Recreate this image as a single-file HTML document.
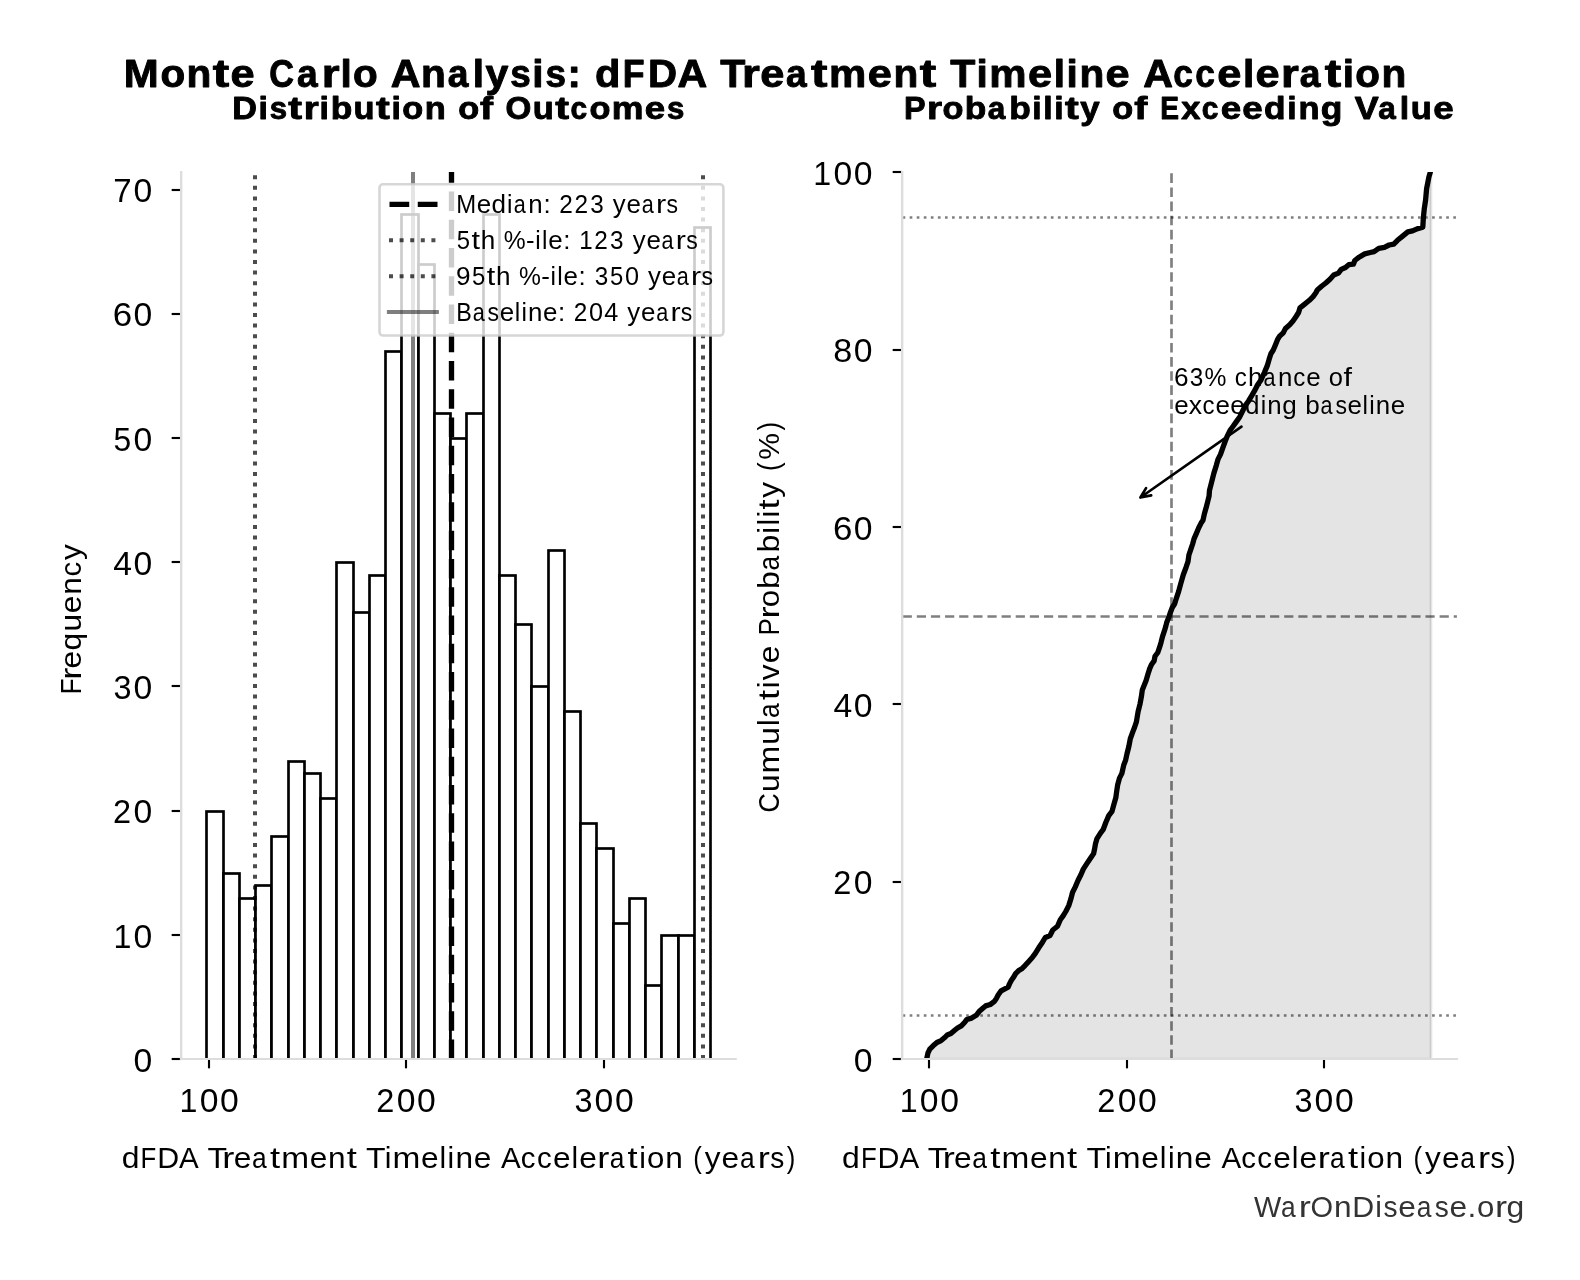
<!DOCTYPE html><html><head><meta charset="utf-8"><title>Monte Carlo Analysis</title><style>html,body{margin:0;padding:0;background:#fff;overflow:hidden}svg{display:block;will-change:transform}text{font-family:"Liberation Sans",sans-serif}</style></head><body>
<svg width="1580" height="1280" viewBox="0 0 1580 1280">
<rect width="1580" height="1280" fill="#fff"/>
<defs><clipPath id="cl"><rect x="181.0" y="172.1" width="554.7" height="886.9"/></clipPath><clipPath id="cr"><rect x="902.0" y="172.0" width="554.9000000000001" height="887.0"/></clipPath></defs>
<g clip-path="url(#cl)">
<rect x="206.5" y="811.5" width="17.0" height="250.50" fill="#fff" stroke="#000" stroke-width="2.67"/>
<rect x="223.5" y="873.5" width="16.0" height="188.50" fill="#fff" stroke="#000" stroke-width="2.67"/>
<rect x="239.5" y="898.5" width="16.0" height="163.50" fill="#fff" stroke="#000" stroke-width="2.67"/>
<rect x="255.5" y="885.5" width="16.0" height="176.50" fill="#fff" stroke="#000" stroke-width="2.67"/>
<rect x="271.5" y="836.5" width="17.0" height="225.50" fill="#fff" stroke="#000" stroke-width="2.67"/>
<rect x="288.5" y="761.5" width="16.0" height="300.50" fill="#fff" stroke="#000" stroke-width="2.67"/>
<rect x="304.5" y="773.5" width="16.0" height="288.50" fill="#fff" stroke="#000" stroke-width="2.67"/>
<rect x="320.5" y="798.5" width="16.0" height="263.50" fill="#fff" stroke="#000" stroke-width="2.67"/>
<rect x="336.5" y="562.5" width="17.0" height="499.50" fill="#fff" stroke="#000" stroke-width="2.67"/>
<rect x="353.5" y="612.5" width="16.0" height="449.50" fill="#fff" stroke="#000" stroke-width="2.67"/>
<rect x="369.5" y="575.5" width="16.0" height="486.50" fill="#fff" stroke="#000" stroke-width="2.67"/>
<rect x="385.5" y="351.5" width="16.0" height="710.50" fill="#fff" stroke="#000" stroke-width="2.67"/>
<rect x="401.5" y="214.5" width="17.0" height="847.50" fill="#fff" stroke="#000" stroke-width="2.67"/>
<rect x="418.5" y="264.5" width="16.0" height="797.50" fill="#fff" stroke="#000" stroke-width="2.67"/>
<rect x="434.5" y="413.5" width="16.0" height="648.50" fill="#fff" stroke="#000" stroke-width="2.67"/>
<rect x="450.5" y="438.5" width="16.0" height="623.50" fill="#fff" stroke="#000" stroke-width="2.67"/>
<rect x="466.5" y="413.5" width="17.0" height="648.50" fill="#fff" stroke="#000" stroke-width="2.67"/>
<rect x="483.5" y="214.5" width="16.0" height="847.50" fill="#fff" stroke="#000" stroke-width="2.67"/>
<rect x="499.5" y="575.5" width="16.0" height="486.50" fill="#fff" stroke="#000" stroke-width="2.67"/>
<rect x="515.5" y="624.5" width="16.0" height="437.50" fill="#fff" stroke="#000" stroke-width="2.67"/>
<rect x="531.5" y="686.5" width="17.0" height="375.50" fill="#fff" stroke="#000" stroke-width="2.67"/>
<rect x="548.5" y="550.5" width="16.0" height="511.50" fill="#fff" stroke="#000" stroke-width="2.67"/>
<rect x="564.5" y="711.5" width="16.0" height="350.50" fill="#fff" stroke="#000" stroke-width="2.67"/>
<rect x="580.5" y="823.5" width="16.0" height="238.50" fill="#fff" stroke="#000" stroke-width="2.67"/>
<rect x="596.5" y="848.5" width="17.0" height="213.50" fill="#fff" stroke="#000" stroke-width="2.67"/>
<rect x="613.5" y="923.5" width="16.0" height="138.50" fill="#fff" stroke="#000" stroke-width="2.67"/>
<rect x="629.5" y="898.5" width="16.0" height="163.50" fill="#fff" stroke="#000" stroke-width="2.67"/>
<rect x="645.5" y="985.5" width="16.0" height="76.50" fill="#fff" stroke="#000" stroke-width="2.67"/>
<rect x="661.5" y="935.5" width="17.0" height="126.50" fill="#fff" stroke="#000" stroke-width="2.67"/>
<rect x="678.5" y="935.5" width="16.0" height="126.50" fill="#fff" stroke="#000" stroke-width="2.67"/>
<rect x="694.5" y="227.5" width="16.0" height="834.50" fill="#fff" stroke="#000" stroke-width="2.67"/>
<path d="M255.0 1059.0 V172.1" stroke="#000" stroke-opacity="0.7" stroke-width="4" stroke-dasharray="4 6.6"/>
<path d="M413.0 1059.0 V172.1" stroke="#000" stroke-opacity="0.5" stroke-width="4"/>
<path d="M451.5 1059.0 V172.1" stroke="#000" stroke-width="5.33" stroke-dasharray="19.5 8.77"/>
<path d="M703.0 1059.0 V172.1" stroke="#000" stroke-opacity="0.7" stroke-width="4" stroke-dasharray="4 6.6"/>
</g>
<path d="M171.67 1059 H181" stroke="#000" stroke-width="2.13"/>
<path d="M171.67 935 H181" stroke="#000" stroke-width="2.13"/>
<path d="M171.67 811 H181" stroke="#000" stroke-width="2.13"/>
<path d="M171.67 686 H181" stroke="#000" stroke-width="2.13"/>
<path d="M171.67 562 H181" stroke="#000" stroke-width="2.13"/>
<path d="M171.67 438 H181" stroke="#000" stroke-width="2.13"/>
<path d="M171.67 314 H181" stroke="#000" stroke-width="2.13"/>
<path d="M171.67 190 H181" stroke="#000" stroke-width="2.13"/>
<path d="M209 1059 V1068.33" stroke="#000" stroke-width="2.13"/>
<path d="M406 1059 V1068.33" stroke="#000" stroke-width="2.13"/>
<path d="M604 1059 V1068.33" stroke="#000" stroke-width="2.13"/>
<path d="M181.15 171.0 V1060.1" stroke="#dddddd" stroke-width="2.4"/>
<path d="M179.9 1059.0 H736.8000000000001" stroke="#dddddd" stroke-width="2.13"/>
<rect x="379.5" y="184.3" width="343.9" height="151.2" rx="3.5" ry="3.5" fill="#fff" fill-opacity="0.8" stroke="#cccccc" stroke-opacity="0.8" stroke-width="2.6"/>
<path d="M389.5 204.4 H437.5" stroke="#000" stroke-width="5.33" stroke-dasharray="19.73 8.53"/>
<path d="M389.0 240.3 H437.5" stroke="#000" stroke-opacity="0.7" stroke-width="4" stroke-dasharray="4 6.6"/>
<path d="M389.0 276.2 H437.5" stroke="#000" stroke-opacity="0.7" stroke-width="4" stroke-dasharray="4 6.6"/>
<path d="M388.9 312.1 H436.9" stroke="#000" stroke-opacity="0.5" stroke-width="4" stroke-linecap="square"/>
<path d="M902.0 1015.5 H1456.9" stroke="#000" stroke-opacity="0.5" stroke-width="2.67" stroke-dasharray="2.67 4.39" stroke-dashoffset="-0.6"/>
<path d="M902.0 217.5 H1456.9" stroke="#000" stroke-opacity="0.5" stroke-width="2.67" stroke-dasharray="2.67 4.39" stroke-dashoffset="-0.6"/>
<path d="M902.0 616.5 H1456.9" stroke="#000" stroke-opacity="0.5" stroke-width="2.67" stroke-dasharray="9.2 4.93" stroke-dashoffset="-0.67"/>
<path d="M1171.5 1059.0 V172.0" stroke="#000" stroke-opacity="0.5" stroke-width="2.67" stroke-dasharray="9.6 4.53"/>
<g clip-path="url(#cr)">
<polygon points="926.50,1059.0 926.50,1060.00 927.00,1057.50 928.00,1052.80 929.80,1049.10 933.10,1045.80 936.90,1042.50 941.10,1040.60 944.40,1037.80 947.20,1035.00 950.90,1033.60 954.70,1030.30 957.50,1028.00 961.70,1025.60 965.00,1021.90 966.90,1019.50 971.60,1018.10 976.25,1015.30 979.10,1011.60 982.80,1008.30 985.60,1005.90 990.30,1004.50 994.10,1001.70 996.40,998.40 998.30,994.70 1001.10,990.90 1004.40,989.10 1008.10,987.20 1009.50,983.90 1011.40,980.20 1013.75,976.90 1015.60,973.60 1018.40,970.80 1022.20,968.40 1025.00,965.60 1028.75,961.40 1032.50,957.20 1035.00,953.90 1038.75,947.80 1042.50,942.20 1045.30,937.50 1050.00,935.60 1052.80,930.00 1057.50,926.25 1060.30,919.70 1063.10,915.90 1065.90,911.25 1068.75,905.60 1071.10,898.10 1072.50,892.50 1075.30,886.90 1078.10,880.30 1080.90,874.70 1083.30,869.10 1087.00,863.40 1090.80,857.80 1093.60,853.60 1094.50,849.40 1095.50,843.75 1097.00,838.60 1100.30,833.40 1103.10,829.70 1105.90,822.20 1108.75,815.60 1112.00,811.40 1113.90,804.40 1115.80,797.80 1116.70,791.25 1117.70,784.70 1119.50,778.10 1121.90,773.40 1123.75,765.00 1125.60,760.30 1127.00,753.75 1128.90,746.25 1130.30,738.75 1132.70,732.20 1134.50,727.50 1136.40,721.90 1138.10,711.60 1140.00,704.10 1141.40,696.60 1142.30,690.00 1144.20,685.30 1146.10,680.60 1148.00,674.10 1149.80,668.40 1151.70,664.20 1154.10,660.90 1155.00,656.25 1157.80,652.50 1159.70,646.90 1161.10,642.20 1162.50,636.60 1164.40,630.90 1165.80,626.25 1166.70,622.50 1168.60,617.80 1170.50,612.20 1172.30,607.50 1174.70,603.75 1176.25,598.60 1178.60,591.60 1180.90,583.10 1183.30,574.70 1186.10,567.20 1188.00,561.60 1188.90,555.00 1190.80,549.40 1192.70,543.75 1194.10,538.60 1196.40,533.40 1198.75,527.80 1201.10,523.10 1203.00,520.30 1204.40,513.75 1206.25,507.20 1207.70,501.60 1209.10,495.90 1209.50,490.30 1212.00,480.60 1213.90,473.10 1216.25,465.60 1218.10,459.10 1220.50,454.40 1222.80,447.80 1225.20,441.25 1227.50,435.60 1230.30,430.00 1233.10,426.25 1236.40,421.60 1239.70,416.90 1242.50,411.25 1245.30,405.60 1248.60,400.90 1251.90,395.30 1255.20,389.70 1257.50,385.00 1260.80,380.30 1264.40,372.50 1267.20,365.90 1269.10,359.40 1270.90,353.75 1273.30,350.00 1275.60,344.40 1277.50,339.70 1279.80,335.90 1283.10,333.10 1285.50,328.40 1289.70,324.70 1293.00,320.90 1296.25,316.25 1298.60,312.50 1300.00,307.80 1304.70,304.10 1309.40,300.30 1313.10,296.60 1315.90,292.80 1317.30,290.00 1321.60,286.25 1325.80,283.00 1330.00,279.20 1333.75,275.00 1338.40,273.10 1341.25,269.40 1345.50,267.50 1348.75,264.70 1353.40,264.20 1354.80,260.50 1359.10,257.20 1364.70,253.90 1370.30,252.50 1374.10,251.60 1378.75,248.30 1384.40,247.30 1389.10,245.00 1393.75,244.10 1397.50,240.30 1402.65,236.10 1407.80,231.90 1412.50,230.90 1417.70,228.60 1422.80,227.20 1423.30,218.75 1424.20,209.40 1425.60,200.00 1426.60,188.70 1428.90,177.00 1430.30,172.30 1431.00,165.00 1431.00,1059.0" fill="#000" fill-opacity="0.105" stroke="#000" stroke-opacity="0.105" stroke-width="2.67"/>
</g>
<g id="curvegrp"></g>
<g stroke="#000" stroke-width="0.9" stroke-linejoin="round" font-size="37.94" font-weight="bold"><text transform="translate(123.79 86.55) scale(1.106 1.000)">M</text><text transform="translate(160.40 86.55) scale(1.065 1.000)">o</text><text transform="translate(186.54 86.55) scale(1.070 1.000)">n</text><text transform="translate(212.77 86.55) scale(1.300 1.000)">t</text><text transform="translate(230.53 86.55) scale(1.142 1.000)">e</text><text transform="translate(269.37 86.55) scale(0.903 1.000)">C</text><text transform="translate(296.91 86.55) scale(0.980 1.000)">a</text><text transform="translate(321.86 86.55) scale(1.207 1.000)">r</text><text transform="translate(340.43 86.55) scale(1.071 1.000)">l</text><text transform="translate(352.98 86.55) scale(1.065 1.000)">o</text><text transform="translate(390.84 86.55) scale(1.085 1.000)">A</text><text transform="translate(421.09 86.55) scale(1.070 1.000)">n</text><text transform="translate(447.74 86.55) scale(0.980 1.000)">a</text><text transform="translate(472.81 86.55) scale(1.071 1.000)">l</text><text transform="translate(485.46 86.55) scale(1.082 1.000)">y</text><text transform="translate(510.30 86.55) scale(0.971 1.000)">s</text><text transform="translate(532.28 86.55) scale(1.071 1.000)">i</text><text transform="translate(545.39 86.55) scale(0.971 1.000)">s</text><text transform="translate(567.38 86.55) scale(1.058 1.000)">:</text><text transform="translate(595.03 86.55) scale(1.097 1.000)">d</text><text transform="translate(622.81 86.55) scale(0.942 1.000)">F</text><text transform="translate(648.11 86.55) scale(1.062 1.000)">D</text><text transform="translate(677.59 86.55) scale(1.085 1.000)">A</text><text transform="translate(720.13 86.55) scale(1.082 1.000)">T</text><text transform="translate(742.00 86.55) scale(1.207 1.000)">r</text><text transform="translate(760.21 86.55) scale(1.142 1.000)">e</text><text transform="translate(786.11 86.55) scale(0.980 1.000)">a</text><text transform="translate(810.94 86.55) scale(1.300 1.000)">t</text><text transform="translate(829.12 86.55) scale(1.105 1.000)">m</text><text transform="translate(867.68 86.55) scale(1.142 1.000)">e</text><text transform="translate(893.57 86.55) scale(1.070 1.000)">n</text><text transform="translate(919.81 86.55) scale(1.300 1.000)">t</text><text transform="translate(950.37 86.55) scale(1.082 1.000)">T</text><text transform="translate(976.47 86.55) scale(1.071 1.000)">i</text><text transform="translate(989.34 86.55) scale(1.105 1.000)">m</text><text transform="translate(1027.91 86.55) scale(1.142 1.000)">e</text><text transform="translate(1053.64 86.55) scale(1.071 1.000)">l</text><text transform="translate(1066.47 86.55) scale(1.071 1.000)">i</text><text transform="translate(1079.45 86.55) scale(1.070 1.000)">n</text><text transform="translate(1105.56 86.55) scale(1.142 1.000)">e</text><text transform="translate(1143.17 86.55) scale(1.085 1.000)">A</text><text transform="translate(1173.13 86.55) scale(0.931 1.000)">c</text><text transform="translate(1195.30 86.55) scale(0.931 1.000)">c</text><text transform="translate(1217.26 86.55) scale(1.142 1.000)">e</text><text transform="translate(1242.99 86.55) scale(1.071 1.000)">l</text><text transform="translate(1255.45 86.55) scale(1.142 1.000)">e</text><text transform="translate(1281.06 86.55) scale(1.207 1.000)">r</text><text transform="translate(1299.80 86.55) scale(0.980 1.000)">a</text><text transform="translate(1324.63 86.55) scale(1.300 1.000)">t</text><text transform="translate(1342.75 86.55) scale(1.071 1.000)">i</text><text transform="translate(1355.30 86.55) scale(1.065 1.000)">o</text><text transform="translate(1381.44 86.55) scale(1.070 1.000)">n</text></g>
<g stroke="#000" stroke-width="0.9" stroke-linejoin="round" font-size="31.83" font-weight="bold"><text transform="translate(232.29 118.85) scale(1.075 1.000)">D</text><text transform="translate(258.53 118.85) scale(1.062 1.000)">i</text><text transform="translate(269.69 118.85) scale(0.981 1.000)">s</text><text transform="translate(288.34 118.85) scale(1.300 1.000)">t</text><text transform="translate(303.72 118.85) scale(1.214 1.000)">r</text><text transform="translate(319.62 118.85) scale(1.062 1.000)">i</text><text transform="translate(330.65 118.85) scale(1.109 1.000)">b</text><text transform="translate(353.54 118.85) scale(1.081 1.000)">u</text><text transform="translate(376.08 118.85) scale(1.300 1.000)">t</text><text transform="translate(391.57 118.85) scale(1.062 1.000)">i</text><text transform="translate(402.26 118.85) scale(1.077 1.000)">o</text><text transform="translate(424.63 118.85) scale(1.081 1.000)">n</text><text transform="translate(458.16 118.85) scale(1.077 1.000)">o</text><text transform="translate(480.12 118.85) scale(1.234 1.000)">f</text><text transform="translate(505.39 118.85) scale(1.043 1.000)">O</text><text transform="translate(532.74 118.85) scale(1.081 1.000)">u</text><text transform="translate(555.28 118.85) scale(1.300 1.000)">t</text><text transform="translate(570.60 118.85) scale(0.941 1.000)">c</text><text transform="translate(589.46 118.85) scale(1.077 1.000)">o</text><text transform="translate(611.73 118.85) scale(1.120 1.000)">m</text><text transform="translate(644.73 118.85) scale(1.154 1.000)">e</text><text transform="translate(666.97 118.85) scale(0.981 1.000)">s</text></g>
<g stroke="#000" stroke-width="0.9" stroke-linejoin="round" font-size="31.83" font-weight="bold"><text transform="translate(903.99 118.85) scale(1.016 1.000)">P</text><text transform="translate(926.91 118.85) scale(1.214 1.000)">r</text><text transform="translate(942.53 118.85) scale(1.077 1.000)">o</text><text transform="translate(964.86 118.85) scale(1.109 1.000)">b</text><text transform="translate(987.81 118.85) scale(0.991 1.000)">a</text><text transform="translate(1009.37 118.85) scale(1.109 1.000)">b</text><text transform="translate(1032.23 118.85) scale(1.062 1.000)">i</text><text transform="translate(1043.20 118.85) scale(1.062 1.000)">l</text><text transform="translate(1054.18 118.85) scale(1.062 1.000)">i</text><text transform="translate(1064.95 118.85) scale(1.300 1.000)">t</text><text transform="translate(1080.26 118.85) scale(1.094 1.000)">y</text><text transform="translate(1112.17 118.85) scale(1.077 1.000)">o</text><text transform="translate(1134.14 118.85) scale(1.234 1.000)">f</text><text transform="translate(1160.17 118.85) scale(0.884 1.000)">E</text><text transform="translate(1181.32 118.85) scale(1.084 1.000)">x</text><text transform="translate(1201.86 118.85) scale(0.941 1.000)">c</text><text transform="translate(1220.66 118.85) scale(1.155 1.000)">e</text><text transform="translate(1242.37 118.85) scale(1.155 1.000)">e</text><text transform="translate(1264.11 118.85) scale(1.109 1.000)">d</text><text transform="translate(1287.34 118.85) scale(1.062 1.000)">i</text><text transform="translate(1298.41 118.85) scale(1.082 1.000)">n</text><text transform="translate(1320.78 118.85) scale(1.111 1.000)">g</text><text transform="translate(1354.77 118.85) scale(1.127 1.000)">V</text><text transform="translate(1378.27 118.85) scale(0.991 1.000)">a</text><text transform="translate(1399.78 118.85) scale(1.062 1.000)">l</text><text transform="translate(1410.80 118.85) scale(1.082 1.000)">u</text><text transform="translate(1433.20 118.85) scale(1.155 1.000)">e</text></g>
<g font-size="33.91"><text transform="translate(133.56 1072.03) scale(0.995 1.000)">0</text></g>
<g font-size="33.91"><text transform="translate(113.47 948.13) scale(0.950 1.000)">1</text><text transform="translate(133.56 948.13) scale(0.995 1.000)">0</text></g>
<g font-size="33.91"><text transform="translate(113.11 823.13) scale(0.959 1.000)">2</text><text transform="translate(133.56 823.13) scale(0.995 1.000)">0</text></g>
<g font-size="33.91"><text transform="translate(113.61 699.13) scale(0.955 1.000)">3</text><text transform="translate(133.56 699.13) scale(0.995 1.000)">0</text></g>
<g font-size="33.91"><text transform="translate(113.19 575.18) scale(0.995 1.000)">4</text><text transform="translate(133.56 575.18) scale(0.995 1.000)">0</text></g>
<g font-size="33.91"><text transform="translate(113.60 451.18) scale(0.939 1.000)">5</text><text transform="translate(133.56 451.18) scale(0.995 1.000)">0</text></g>
<g font-size="33.91"><text transform="translate(112.87 326.13) scale(1.030 1.000)">6</text><text transform="translate(133.56 326.13) scale(0.995 1.000)">0</text></g>
<g font-size="33.91"><text transform="translate(113.34 202.13) scale(0.973 1.000)">7</text><text transform="translate(133.56 202.13) scale(0.995 1.000)">0</text></g>
<g font-size="33.91"><text transform="translate(853.76 1072.03) scale(0.995 1.000)">0</text></g>
<g font-size="33.91"><text transform="translate(833.31 894.13) scale(0.959 1.000)">2</text><text transform="translate(853.76 894.13) scale(0.995 1.000)">0</text></g>
<g font-size="33.91"><text transform="translate(833.39 717.23) scale(0.995 1.000)">4</text><text transform="translate(853.76 717.23) scale(0.995 1.000)">0</text></g>
<g font-size="33.91"><text transform="translate(833.07 540.18) scale(1.030 1.000)">6</text><text transform="translate(853.76 540.18) scale(0.995 1.000)">0</text></g>
<g font-size="33.91"><text transform="translate(833.30 362.13) scale(1.006 1.000)">8</text><text transform="translate(853.76 362.13) scale(0.995 1.000)">0</text></g>
<g font-size="33.91"><text transform="translate(813.31 185.33) scale(0.950 1.000)">1</text><text transform="translate(833.40 185.33) scale(0.995 1.000)">0</text><text transform="translate(853.76 185.33) scale(0.995 1.000)">0</text></g>
<g font-size="33.91"><text transform="translate(179.58 1111.90) scale(0.950 1.000)">1</text><text transform="translate(199.67 1111.90) scale(0.995 1.000)">0</text><text transform="translate(220.03 1111.90) scale(0.995 1.000)">0</text></g>
<g font-size="33.91"><text transform="translate(376.29 1111.90) scale(0.959 1.000)">2</text><text transform="translate(396.73 1111.90) scale(0.995 1.000)">0</text><text transform="translate(417.09 1111.90) scale(0.995 1.000)">0</text></g>
<g font-size="33.91"><text transform="translate(574.61 1111.90) scale(0.955 1.000)">3</text><text transform="translate(594.56 1111.90) scale(0.995 1.000)">0</text><text transform="translate(614.92 1111.90) scale(0.995 1.000)">0</text></g>
<g font-size="33.91"><text transform="translate(899.78 1111.90) scale(0.950 1.000)">1</text><text transform="translate(919.87 1111.90) scale(0.995 1.000)">0</text><text transform="translate(940.23 1111.90) scale(0.995 1.000)">0</text></g>
<g font-size="33.91"><text transform="translate(1097.29 1111.90) scale(0.959 1.000)">2</text><text transform="translate(1117.73 1111.90) scale(0.995 1.000)">0</text><text transform="translate(1138.09 1111.90) scale(0.995 1.000)">0</text></g>
<g font-size="33.91"><text transform="translate(1294.61 1111.90) scale(0.955 1.000)">3</text><text transform="translate(1314.56 1111.90) scale(0.995 1.000)">0</text><text transform="translate(1334.92 1111.90) scale(0.995 1.000)">0</text></g>
<g font-size="30.30"><text transform="translate(121.67 1167.90) scale(1.052 1.000)">d</text><text transform="translate(140.62 1167.90) scale(0.850 1.000)">F</text><text transform="translate(157.27 1167.90) scale(1.002 1.000)">D</text><text transform="translate(179.12 1167.90) scale(0.975 1.000)">A</text><text transform="translate(207.53 1167.90) scale(1.056 1.000)">T</text><text transform="translate(222.34 1167.90) scale(1.200 1.000)">r</text><text transform="translate(233.63 1167.90) scale(1.046 1.000)">e</text><text transform="translate(252.04 1167.90) scale(0.870 1.000)">a</text><text transform="translate(269.97 1167.90) scale(1.200 1.000)">t</text><text transform="translate(281.32 1167.90) scale(1.103 1.000)">m</text><text transform="translate(309.72 1167.90) scale(1.046 1.000)">e</text><text transform="translate(328.05 1167.90) scale(1.044 1.000)">n</text><text transform="translate(346.68 1167.90) scale(1.200 1.000)">t</text><text transform="translate(366.10 1167.90) scale(1.056 1.000)">T</text><text transform="translate(384.67 1167.90) scale(0.989 1.000)">i</text><text transform="translate(392.51 1167.90) scale(1.103 1.000)">m</text><text transform="translate(420.91 1167.90) scale(1.046 1.000)">e</text><text transform="translate(439.42 1167.90) scale(0.989 1.000)">l</text><text transform="translate(447.59 1167.90) scale(0.989 1.000)">i</text><text transform="translate(455.54 1167.90) scale(1.044 1.000)">n</text><text transform="translate(473.84 1167.90) scale(1.046 1.000)">e</text><text transform="translate(501.11 1167.90) scale(0.975 1.000)">A</text><text transform="translate(520.85 1167.90) scale(0.971 1.000)">c</text><text transform="translate(536.98 1167.90) scale(0.971 1.000)">c</text><text transform="translate(553.01 1167.90) scale(1.046 1.000)">e</text><text transform="translate(571.52 1167.90) scale(0.989 1.000)">l</text><text transform="translate(579.20 1167.90) scale(1.046 1.000)">e</text><text transform="translate(597.37 1167.90) scale(1.200 1.000)">r</text><text transform="translate(609.67 1167.90) scale(0.870 1.000)">a</text><text transform="translate(627.60 1167.90) scale(1.200 1.000)">t</text><text transform="translate(639.26 1167.90) scale(0.989 1.000)">i</text><text transform="translate(646.96 1167.90) scale(1.029 1.000)">o</text><text transform="translate(665.16 1167.90) scale(1.044 1.000)">n</text><text transform="translate(693.31 1167.90) scale(0.850 1.000)">(</text><text transform="translate(704.75 1167.90) scale(1.040 1.000)">y</text><text transform="translate(721.58 1167.90) scale(1.046 1.000)">e</text><text transform="translate(740.00 1167.90) scale(0.870 1.000)">a</text><text transform="translate(757.73 1167.90) scale(1.200 1.000)">r</text><text transform="translate(770.19 1167.90) scale(0.928 1.000)">s</text><text transform="translate(786.74 1167.90) scale(0.850 1.000)">)</text></g>
<g font-size="30.30"><text transform="translate(841.97 1167.90) scale(1.052 1.000)">d</text><text transform="translate(860.92 1167.90) scale(0.850 1.000)">F</text><text transform="translate(877.57 1167.90) scale(1.002 1.000)">D</text><text transform="translate(899.42 1167.90) scale(0.975 1.000)">A</text><text transform="translate(927.83 1167.90) scale(1.056 1.000)">T</text><text transform="translate(942.64 1167.90) scale(1.200 1.000)">r</text><text transform="translate(953.93 1167.90) scale(1.046 1.000)">e</text><text transform="translate(972.34 1167.90) scale(0.870 1.000)">a</text><text transform="translate(990.27 1167.90) scale(1.200 1.000)">t</text><text transform="translate(1001.62 1167.90) scale(1.103 1.000)">m</text><text transform="translate(1030.02 1167.90) scale(1.046 1.000)">e</text><text transform="translate(1048.35 1167.90) scale(1.044 1.000)">n</text><text transform="translate(1066.98 1167.90) scale(1.200 1.000)">t</text><text transform="translate(1086.40 1167.90) scale(1.056 1.000)">T</text><text transform="translate(1104.97 1167.90) scale(0.989 1.000)">i</text><text transform="translate(1112.81 1167.90) scale(1.103 1.000)">m</text><text transform="translate(1141.21 1167.90) scale(1.046 1.000)">e</text><text transform="translate(1159.72 1167.90) scale(0.989 1.000)">l</text><text transform="translate(1167.89 1167.90) scale(0.989 1.000)">i</text><text transform="translate(1175.84 1167.90) scale(1.044 1.000)">n</text><text transform="translate(1194.14 1167.90) scale(1.046 1.000)">e</text><text transform="translate(1221.41 1167.90) scale(0.975 1.000)">A</text><text transform="translate(1241.15 1167.90) scale(0.971 1.000)">c</text><text transform="translate(1257.28 1167.90) scale(0.971 1.000)">c</text><text transform="translate(1273.31 1167.90) scale(1.046 1.000)">e</text><text transform="translate(1291.82 1167.90) scale(0.989 1.000)">l</text><text transform="translate(1299.50 1167.90) scale(1.046 1.000)">e</text><text transform="translate(1317.67 1167.90) scale(1.200 1.000)">r</text><text transform="translate(1329.97 1167.90) scale(0.870 1.000)">a</text><text transform="translate(1347.90 1167.90) scale(1.200 1.000)">t</text><text transform="translate(1359.56 1167.90) scale(0.989 1.000)">i</text><text transform="translate(1367.26 1167.90) scale(1.029 1.000)">o</text><text transform="translate(1385.46 1167.90) scale(1.044 1.000)">n</text><text transform="translate(1413.61 1167.90) scale(0.850 1.000)">(</text><text transform="translate(1425.05 1167.90) scale(1.040 1.000)">y</text><text transform="translate(1441.88 1167.90) scale(1.046 1.000)">e</text><text transform="translate(1460.30 1167.90) scale(0.870 1.000)">a</text><text transform="translate(1478.03 1167.90) scale(1.200 1.000)">r</text><text transform="translate(1490.49 1167.90) scale(0.928 1.000)">s</text><text transform="translate(1507.04 1167.90) scale(0.850 1.000)">)</text></g>
<g transform="rotate(-90 81.20 694.86)"><g font-size="30.30"><text transform="translate(81.82 694.86) scale(0.850 1.000)">F</text><text transform="translate(96.34 694.86) scale(1.200 1.000)">r</text><text transform="translate(107.62 694.86) scale(1.046 1.000)">e</text><text transform="translate(125.68 694.86) scale(1.051 1.000)">q</text><text transform="translate(144.45 694.86) scale(1.044 1.000)">u</text><text transform="translate(162.87 694.86) scale(1.046 1.000)">e</text><text transform="translate(181.21 694.86) scale(1.044 1.000)">n</text><text transform="translate(199.60 694.86) scale(0.971 1.000)">c</text><text transform="translate(216.16 694.86) scale(1.040 1.000)">y</text></g></g>
<g transform="rotate(-90 778.90 812.91)"><g font-size="30.30"><text transform="translate(779.16 812.91) scale(0.899 1.000)">C</text><text transform="translate(799.82 812.91) scale(1.044 1.000)">u</text><text transform="translate(818.41 812.91) scale(1.103 1.000)">m</text><text transform="translate(846.98 812.91) scale(1.044 1.000)">u</text><text transform="translate(865.87 812.91) scale(0.989 1.000)">l</text><text transform="translate(873.92 812.91) scale(0.870 1.000)">a</text><text transform="translate(891.85 812.91) scale(1.200 1.000)">t</text><text transform="translate(903.51 812.91) scale(0.989 1.000)">i</text><text transform="translate(911.66 812.91) scale(1.045 1.000)">v</text><text transform="translate(928.53 812.91) scale(1.046 1.000)">e</text><text transform="translate(956.38 812.91) scale(0.856 1.000)">P</text><text transform="translate(973.20 812.91) scale(1.200 1.000)">r</text><text transform="translate(984.52 812.91) scale(1.029 1.000)">o</text><text transform="translate(1002.76 812.91) scale(1.053 1.000)">b</text><text transform="translate(1021.41 812.91) scale(0.870 1.000)">a</text><text transform="translate(1039.35 812.91) scale(1.053 1.000)">b</text><text transform="translate(1058.12 812.91) scale(0.989 1.000)">i</text><text transform="translate(1066.26 812.91) scale(0.989 1.000)">l</text><text transform="translate(1074.42 812.91) scale(0.989 1.000)">i</text><text transform="translate(1082.41 812.91) scale(1.200 1.000)">t</text><text transform="translate(1094.11 812.91) scale(1.040 1.000)">y</text><text transform="translate(1120.79 812.91) scale(0.850 1.000)">(</text><text transform="translate(1131.98 812.91) scale(0.994 1.000)">%</text><text transform="translate(1161.37 812.91) scale(0.850 1.000)">)</text></g></g>
<g font-size="25.43"><text transform="translate(456.14 212.90) scale(0.941 1.000)">M</text><text transform="translate(476.68 212.90) scale(1.019 1.000)">e</text><text transform="translate(491.45 212.90) scale(1.026 1.000)">d</text><text transform="translate(507.08 212.90) scale(0.965 1.000)">i</text><text transform="translate(513.64 212.90) scale(0.850 1.000)">a</text><text transform="translate(528.29 212.90) scale(1.018 1.000)">n</text><text transform="translate(543.48 212.90) scale(1.021 1.000)">:</text><text transform="translate(559.29 212.90) scale(0.959 1.000)">2</text><text transform="translate(574.56 212.90) scale(0.959 1.000)">2</text><text transform="translate(590.20 212.90) scale(0.955 1.000)">3</text><text transform="translate(612.85 212.90) scale(1.013 1.000)">y</text><text transform="translate(626.62 212.90) scale(1.019 1.000)">e</text><text transform="translate(641.68 212.90) scale(0.850 1.000)">a</text><text transform="translate(656.05 212.90) scale(1.200 1.000)">r</text><text transform="translate(666.40 212.90) scale(0.905 1.000)">s</text></g>
<g font-size="25.43"><text transform="translate(456.65 248.80) scale(0.939 1.000)">5</text><text transform="translate(471.40 248.80) scale(1.200 1.000)">t</text><text transform="translate(480.80 248.80) scale(1.025 1.000)">h</text><text transform="translate(503.72 248.80) scale(0.969 1.000)">%</text><text transform="translate(526.10 248.80) scale(1.017 1.000)">-</text><text transform="translate(535.35 248.80) scale(0.965 1.000)">i</text><text transform="translate(542.01 248.80) scale(0.965 1.000)">l</text><text transform="translate(548.29 248.80) scale(1.019 1.000)">e</text><text transform="translate(563.28 248.80) scale(1.021 1.000)">:</text><text transform="translate(579.35 248.80) scale(0.950 1.000)">1</text><text transform="translate(594.35 248.80) scale(0.959 1.000)">2</text><text transform="translate(609.99 248.80) scale(0.955 1.000)">3</text><text transform="translate(632.64 248.80) scale(1.013 1.000)">y</text><text transform="translate(646.41 248.80) scale(1.019 1.000)">e</text><text transform="translate(661.47 248.80) scale(0.850 1.000)">a</text><text transform="translate(675.85 248.80) scale(1.200 1.000)">r</text><text transform="translate(686.19 248.80) scale(0.905 1.000)">s</text></g>
<g font-size="25.43"><text transform="translate(456.04 284.70) scale(1.028 1.000)">9</text><text transform="translate(471.92 284.70) scale(0.939 1.000)">5</text><text transform="translate(486.67 284.70) scale(1.200 1.000)">t</text><text transform="translate(496.07 284.70) scale(1.025 1.000)">h</text><text transform="translate(518.98 284.70) scale(0.969 1.000)">%</text><text transform="translate(541.37 284.70) scale(1.017 1.000)">-</text><text transform="translate(550.62 284.70) scale(0.965 1.000)">i</text><text transform="translate(557.28 284.70) scale(0.965 1.000)">l</text><text transform="translate(563.56 284.70) scale(1.019 1.000)">e</text><text transform="translate(578.55 284.70) scale(1.021 1.000)">:</text><text transform="translate(594.72 284.70) scale(0.955 1.000)">3</text><text transform="translate(609.99 284.70) scale(0.939 1.000)">5</text><text transform="translate(624.95 284.70) scale(0.995 1.000)">0</text><text transform="translate(647.91 284.70) scale(1.013 1.000)">y</text><text transform="translate(661.68 284.70) scale(1.019 1.000)">e</text><text transform="translate(676.74 284.70) scale(0.850 1.000)">a</text><text transform="translate(691.12 284.70) scale(1.200 1.000)">r</text><text transform="translate(701.46 284.70) scale(0.905 1.000)">s</text></g>
<g font-size="25.43"><text transform="translate(456.19 320.60) scale(0.917 1.000)">B</text><text transform="translate(472.73 320.60) scale(0.850 1.000)">a</text><text transform="translate(487.58 320.60) scale(0.905 1.000)">s</text><text transform="translate(499.65 320.60) scale(1.019 1.000)">e</text><text transform="translate(514.80 320.60) scale(0.965 1.000)">l</text><text transform="translate(521.48 320.60) scale(0.965 1.000)">i</text><text transform="translate(527.99 320.60) scale(1.018 1.000)">n</text><text transform="translate(542.96 320.60) scale(1.019 1.000)">e</text><text transform="translate(557.95 320.60) scale(1.021 1.000)">:</text><text transform="translate(573.75 320.60) scale(0.959 1.000)">2</text><text transform="translate(589.08 320.60) scale(0.995 1.000)">0</text><text transform="translate(604.35 320.60) scale(0.995 1.000)">4</text><text transform="translate(627.31 320.60) scale(1.013 1.000)">y</text><text transform="translate(641.08 320.60) scale(1.019 1.000)">e</text><text transform="translate(656.14 320.60) scale(0.850 1.000)">a</text><text transform="translate(670.51 320.60) scale(1.200 1.000)">r</text><text transform="translate(680.86 320.60) scale(0.905 1.000)">s</text></g>
<g font-size="25.43"><text transform="translate(1173.92 385.60) scale(1.030 1.000)">6</text><text transform="translate(1189.75 385.60) scale(0.955 1.000)">3</text><text transform="translate(1204.56 385.60) scale(0.969 1.000)">%</text><text transform="translate(1234.85 385.60) scale(0.947 1.000)">c</text><text transform="translate(1248.11 385.60) scale(1.025 1.000)">h</text><text transform="translate(1263.47 385.60) scale(0.850 1.000)">a</text><text transform="translate(1278.12 385.60) scale(1.018 1.000)">n</text><text transform="translate(1293.17 385.60) scale(0.947 1.000)">c</text><text transform="translate(1306.29 385.60) scale(1.019 1.000)">e</text><text transform="translate(1328.71 385.60) scale(1.003 1.000)">o</text><text transform="translate(1343.40 385.60) scale(1.200 1.000)">f</text></g>
<g font-size="25.43"><text transform="translate(1174.17 413.90) scale(1.019 1.000)">e</text><text transform="translate(1188.69 413.90) scale(1.047 1.000)">x</text><text transform="translate(1202.38 413.90) scale(0.947 1.000)">c</text><text transform="translate(1215.49 413.90) scale(1.019 1.000)">e</text><text transform="translate(1230.26 413.90) scale(1.019 1.000)">e</text><text transform="translate(1245.03 413.90) scale(1.026 1.000)">d</text><text transform="translate(1260.66 413.90) scale(0.965 1.000)">i</text><text transform="translate(1267.17 413.90) scale(1.018 1.000)">n</text><text transform="translate(1282.14 413.90) scale(1.026 1.000)">g</text><text transform="translate(1305.28 413.90) scale(1.027 1.000)">b</text><text transform="translate(1320.53 413.90) scale(0.850 1.000)">a</text><text transform="translate(1335.38 413.90) scale(0.905 1.000)">s</text><text transform="translate(1347.45 413.90) scale(1.019 1.000)">e</text><text transform="translate(1362.60 413.90) scale(0.965 1.000)">l</text><text transform="translate(1369.28 413.90) scale(0.965 1.000)">i</text><text transform="translate(1375.79 413.90) scale(1.018 1.000)">n</text><text transform="translate(1390.76 413.90) scale(1.019 1.000)">e</text></g>
<g font-size="30.30" fill="#333333"><text transform="translate(1253.98 1217.00) scale(0.954 1.000)">W</text><text transform="translate(1280.90 1217.00) scale(0.870 1.000)">a</text><text transform="translate(1298.64 1217.00) scale(1.200 1.000)">r</text><text transform="translate(1310.57 1217.00) scale(0.957 1.000)">O</text><text transform="translate(1333.94 1217.00) scale(1.044 1.000)">n</text><text transform="translate(1352.36 1217.00) scale(1.002 1.000)">D</text><text transform="translate(1375.31 1217.00) scale(0.989 1.000)">i</text><text transform="translate(1383.51 1217.00) scale(0.928 1.000)">s</text><text transform="translate(1398.25 1217.00) scale(1.046 1.000)">e</text><text transform="translate(1416.67 1217.00) scale(0.870 1.000)">a</text><text transform="translate(1434.81 1217.00) scale(0.928 1.000)">s</text><text transform="translate(1449.55 1217.00) scale(1.046 1.000)">e</text><text transform="translate(1467.56 1217.00) scale(1.047 1.000)">.</text><text transform="translate(1476.96 1217.00) scale(1.029 1.000)">o</text><text transform="translate(1494.99 1217.00) scale(1.200 1.000)">r</text><text transform="translate(1506.42 1217.00) scale(1.052 1.000)">g</text></g>
<g clip-path="url(#cr)"><path d="M926.50 1060.00 L927.00 1057.50 L928.00 1052.80 L929.80 1049.10 L933.10 1045.80 L936.90 1042.50 L941.10 1040.60 L944.40 1037.80 L947.20 1035.00 L950.90 1033.60 L954.70 1030.30 L957.50 1028.00 L961.70 1025.60 L965.00 1021.90 L966.90 1019.50 L971.60 1018.10 L976.25 1015.30 L979.10 1011.60 L982.80 1008.30 L985.60 1005.90 L990.30 1004.50 L994.10 1001.70 L996.40 998.40 L998.30 994.70 L1001.10 990.90 L1004.40 989.10 L1008.10 987.20 L1009.50 983.90 L1011.40 980.20 L1013.75 976.90 L1015.60 973.60 L1018.40 970.80 L1022.20 968.40 L1025.00 965.60 L1028.75 961.40 L1032.50 957.20 L1035.00 953.90 L1038.75 947.80 L1042.50 942.20 L1045.30 937.50 L1050.00 935.60 L1052.80 930.00 L1057.50 926.25 L1060.30 919.70 L1063.10 915.90 L1065.90 911.25 L1068.75 905.60 L1071.10 898.10 L1072.50 892.50 L1075.30 886.90 L1078.10 880.30 L1080.90 874.70 L1083.30 869.10 L1087.00 863.40 L1090.80 857.80 L1093.60 853.60 L1094.50 849.40 L1095.50 843.75 L1097.00 838.60 L1100.30 833.40 L1103.10 829.70 L1105.90 822.20 L1108.75 815.60 L1112.00 811.40 L1113.90 804.40 L1115.80 797.80 L1116.70 791.25 L1117.70 784.70 L1119.50 778.10 L1121.90 773.40 L1123.75 765.00 L1125.60 760.30 L1127.00 753.75 L1128.90 746.25 L1130.30 738.75 L1132.70 732.20 L1134.50 727.50 L1136.40 721.90 L1138.10 711.60 L1140.00 704.10 L1141.40 696.60 L1142.30 690.00 L1144.20 685.30 L1146.10 680.60 L1148.00 674.10 L1149.80 668.40 L1151.70 664.20 L1154.10 660.90 L1155.00 656.25 L1157.80 652.50 L1159.70 646.90 L1161.10 642.20 L1162.50 636.60 L1164.40 630.90 L1165.80 626.25 L1166.70 622.50 L1168.60 617.80 L1170.50 612.20 L1172.30 607.50 L1174.70 603.75 L1176.25 598.60 L1178.60 591.60 L1180.90 583.10 L1183.30 574.70 L1186.10 567.20 L1188.00 561.60 L1188.90 555.00 L1190.80 549.40 L1192.70 543.75 L1194.10 538.60 L1196.40 533.40 L1198.75 527.80 L1201.10 523.10 L1203.00 520.30 L1204.40 513.75 L1206.25 507.20 L1207.70 501.60 L1209.10 495.90 L1209.50 490.30 L1212.00 480.60 L1213.90 473.10 L1216.25 465.60 L1218.10 459.10 L1220.50 454.40 L1222.80 447.80 L1225.20 441.25 L1227.50 435.60 L1230.30 430.00 L1233.10 426.25 L1236.40 421.60 L1239.70 416.90 L1242.50 411.25 L1245.30 405.60 L1248.60 400.90 L1251.90 395.30 L1255.20 389.70 L1257.50 385.00 L1260.80 380.30 L1264.40 372.50 L1267.20 365.90 L1269.10 359.40 L1270.90 353.75 L1273.30 350.00 L1275.60 344.40 L1277.50 339.70 L1279.80 335.90 L1283.10 333.10 L1285.50 328.40 L1289.70 324.70 L1293.00 320.90 L1296.25 316.25 L1298.60 312.50 L1300.00 307.80 L1304.70 304.10 L1309.40 300.30 L1313.10 296.60 L1315.90 292.80 L1317.30 290.00 L1321.60 286.25 L1325.80 283.00 L1330.00 279.20 L1333.75 275.00 L1338.40 273.10 L1341.25 269.40 L1345.50 267.50 L1348.75 264.70 L1353.40 264.20 L1354.80 260.50 L1359.10 257.20 L1364.70 253.90 L1370.30 252.50 L1374.10 251.60 L1378.75 248.30 L1384.40 247.30 L1389.10 245.00 L1393.75 244.10 L1397.50 240.30 L1402.65 236.10 L1407.80 231.90 L1412.50 230.90 L1417.70 228.60 L1422.80 227.20 L1423.30 218.75 L1424.20 209.40 L1425.60 200.00 L1426.60 188.70 L1428.90 177.00 L1430.30 172.30 L1431.00 165.00" fill="none" stroke="#000" stroke-width="5.3" stroke-linejoin="round" stroke-linecap="square"/></g>
<path d="M1241.5 426.7 L1140.4 497.5 M1146.06 488.07 L1140.4 497.5 L1151.2 495.4" stroke="#000" stroke-width="2.67" fill="none" stroke-linejoin="round" stroke-linecap="round"/>
<path d="M892.67 1059 H902" stroke="#000" stroke-width="2.13"/>
<path d="M892.67 882 H902" stroke="#000" stroke-width="2.13"/>
<path d="M892.67 704 H902" stroke="#000" stroke-width="2.13"/>
<path d="M892.67 527 H902" stroke="#000" stroke-width="2.13"/>
<path d="M892.67 350 H902" stroke="#000" stroke-width="2.13"/>
<path d="M892.67 172 H902" stroke="#000" stroke-width="2.13"/>
<path d="M929 1059 V1068.33" stroke="#000" stroke-width="2.13"/>
<path d="M1127 1059 V1068.33" stroke="#000" stroke-width="2.13"/>
<path d="M1324 1059 V1068.33" stroke="#000" stroke-width="2.13"/>
<path d="M902.15 170.9 V1060.1" stroke="#dddddd" stroke-width="2.4"/>
<path d="M900.9 1059.0 H1458.0" stroke="#dddddd" stroke-width="2.13"/>
</svg></body></html>
